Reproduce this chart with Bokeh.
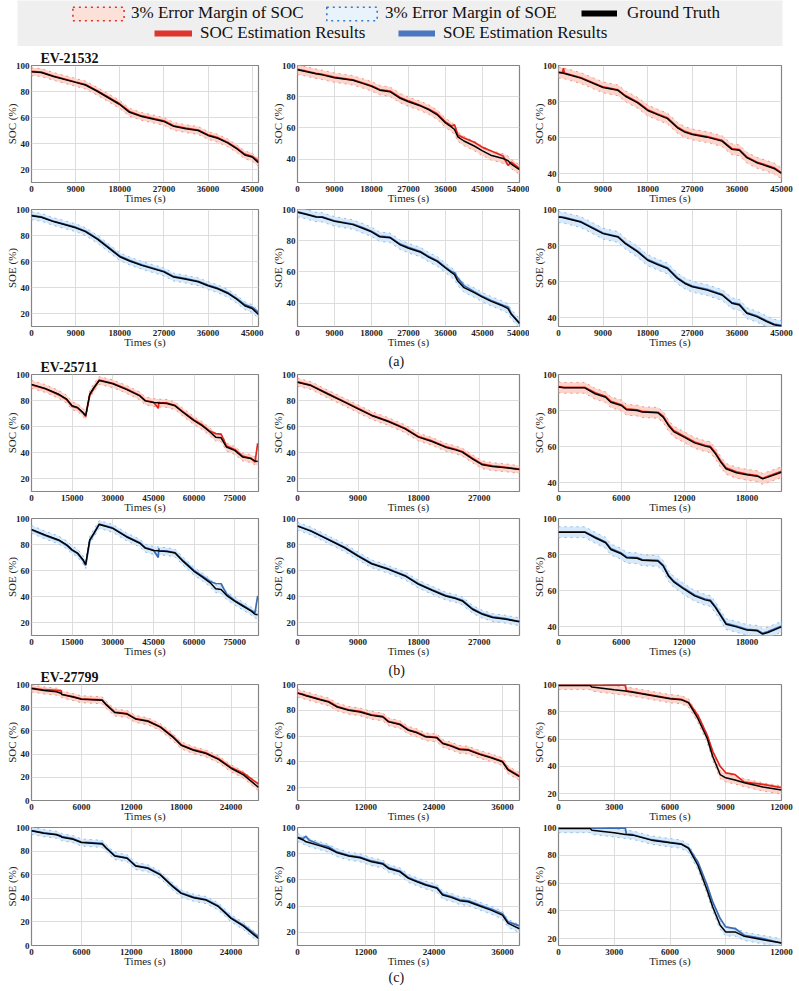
import numpy as np
from bokeh.plotting import figure
from bokeh.layouts import column, row
from bokeh.models import (Range1d, FixedTicker, PrintfTickFormatter, Title, Legend, LegendItem)
from bokeh.embed import file_html
from bokeh.resources import INLINE

# ---------------- data ----------------
GROUP_NAMES = ["EV-21532", "EV-25711", "EV-27799"]
GROUP_TAGS = ["(a)", "(b)", "(c)"]
MARGIN = 3.0  # 3% error margin

# EV-21532
T_A1 = [0, 2000, 4500, 9000, 11000, 13500, 18000, 20000, 22500, 27000, 29000, 31500, 34000, 36000, 38000, 40000, 42000, 43500, 45000, 46300]
SOC_GT_A1 = [95.2, 94.6, 91.6, 87.0, 85.0, 80.0, 70.0, 64.0, 60.8, 57.0, 53.2, 51.4, 50.0, 46.2, 44.0, 40.5, 35.6, 31.2, 29.6, 25.3]
SOC_EST_A1 = [95.5, 94.9, 91.9, 87.3, 85.3, 80.4, 70.5, 64.6, 61.2, 57.5, 53.6, 51.9, 50.4, 46.7, 44.5, 41.0, 36.2, 31.8, 30.2, 26.5]
SOE_GT_A1 = [95.2, 94.0, 90.7, 86.0, 83.0, 77.0, 63.7, 60.4, 57.0, 52.0, 48.0, 46.4, 44.4, 41.4, 39.0, 35.6, 30.6, 26.0, 23.8, 19.3]
SOE_EST_A1 = [95.5, 94.3, 91.0, 86.4, 83.4, 77.5, 64.2, 60.9, 57.4, 52.5, 48.5, 46.9, 44.8, 41.9, 39.5, 36.1, 31.2, 26.8, 24.8, 21.0]

T_A2 = [0, 2000, 4500, 6000, 9000, 13500, 16000, 18000, 20000, 22500, 25000, 27000, 30000, 32000, 34000, 36000, 37500, 38200, 39000, 40500, 43000, 45000, 47000, 50000, 51200, 52000, 54000]
SOC_GT_A2 = [97.3, 96.2, 94.7, 94.0, 92.2, 90.5, 88.4, 86.7, 84.2, 83.2, 79.0, 76.8, 74.0, 71.6, 68.4, 63.2, 60.5, 59.0, 54.3, 51.6, 48.4, 45.3, 42.5, 40.4, 39.0, 36.8, 33.3]
SOC_EST_A2 = [97.5, 96.5, 95.0, 94.4, 92.5, 90.8, 88.8, 87.0, 84.6, 83.6, 79.5, 77.3, 74.4, 72.0, 69.0, 63.8, 61.2, 62.0, 55.5, 53.5, 50.8, 47.5, 45.3, 42.0, 36.0, 38.0, 34.0]
SOE_GT_A2 = [98.3, 97.0, 95.2, 95.0, 92.4, 90.3, 87.8, 85.7, 82.5, 81.9, 77.3, 75.2, 72.6, 69.3, 66.7, 62.5, 59.5, 58.3, 54.1, 49.9, 46.7, 43.8, 41.3, 38.1, 36.5, 32.8, 27.0]
SOE_EST_A2 = [98.5, 97.3, 95.5, 95.3, 92.8, 90.7, 88.2, 86.1, 83.0, 82.3, 77.8, 75.7, 73.0, 69.8, 67.2, 63.0, 60.2, 59.5, 56.0, 51.2, 47.3, 44.3, 41.8, 38.6, 37.5, 33.3, 27.2]

T_A3 = [0, 800, 1000, 1200, 4500, 9000, 12000, 13500, 16000, 18000, 20000, 22000, 24000, 25500, 27000, 30000, 33000, 35000, 36500, 38000, 40000, 42000, 43500, 45000]
SOC_GT_A3 = [96.1, 95.8, 95.7, 95.6, 93.0, 87.8, 86.2, 82.9, 79.2, 75.0, 72.7, 70.5, 65.4, 63.0, 61.7, 60.2, 58.0, 53.4, 52.9, 48.8, 46.0, 44.2, 42.8, 40.0]
SOC_EST_A3 = [96.3, 96.0, 98.5, 95.8, 93.3, 88.1, 86.5, 83.3, 79.6, 75.4, 73.1, 70.9, 65.8, 63.4, 62.0, 60.5, 58.4, 53.8, 53.3, 49.2, 46.4, 44.6, 43.2, 40.5]
SOE_GT_A3 = [95.8, 95.5, 95.4, 95.3, 93.0, 86.6, 84.7, 81.0, 76.4, 71.8, 69.4, 67.2, 61.7, 58.9, 57.1, 55.2, 52.5, 47.9, 47.0, 42.4, 40.5, 37.8, 36.0, 35.2]
SOE_EST_A3 = [96.0, 95.8, 95.7, 95.6, 93.3, 86.9, 85.0, 81.4, 76.8, 72.2, 69.8, 67.6, 62.1, 59.3, 57.5, 55.6, 52.9, 48.3, 47.4, 42.8, 40.9, 38.2, 36.4, 35.6]

# EV-25711
T_B1 = [0, 5000, 10000, 13000, 15000, 17000, 19000, 20000, 21500, 23000, 25000, 27000, 30000, 35000, 40000, 42000, 45000, 46800, 47000, 47200, 50000, 53000, 56000, 60000, 63000, 66000, 68000, 70000, 72000, 75000, 78000, 81000, 82500, 83500]
SOC_GT_B1 = [92.4, 89.3, 84.8, 81.0, 75.9, 74.6, 70.8, 68.3, 84.8, 89.8, 95.4, 94.4, 92.9, 88.6, 83.5, 79.7, 78.4, 78.2, 78.1, 78.0, 77.7, 75.9, 70.8, 64.5, 60.7, 55.6, 51.8, 51.3, 44.2, 41.6, 36.5, 35.3, 33.5, 33.0]
SOC_EST_B1 = [92.0, 89.0, 84.5, 80.6, 75.5, 74.2, 70.5, 67.8, 84.0, 89.2, 95.8, 94.8, 93.3, 89.0, 83.9, 80.0, 78.8, 74.0, 78.6, 78.4, 78.1, 76.3, 71.2, 65.0, 61.3, 56.3, 54.5, 54.2, 45.0, 42.3, 37.2, 35.6, 32.5, 47.0]
SOE_GT_B1 = [91.6, 87.3, 83.5, 79.7, 75.9, 73.4, 68.3, 64.5, 83.5, 88.6, 95.4, 94.2, 92.4, 86.0, 81.0, 77.2, 75.4, 75.2, 75.1, 75.0, 74.6, 73.4, 67.0, 59.4, 55.1, 50.5, 45.9, 45.4, 40.9, 36.5, 32.7, 28.9, 26.4, 26.0]
SOE_EST_B1 = [91.2, 87.0, 83.2, 79.3, 75.5, 73.0, 68.0, 64.0, 82.8, 88.0, 95.8, 94.6, 92.8, 86.4, 81.4, 77.6, 75.8, 70.0, 77.0, 75.4, 75.0, 73.8, 67.5, 60.0, 55.8, 51.5, 50.0, 49.8, 42.0, 37.0, 33.2, 29.5, 27.5, 40.5]

T_B2 = [0, 2000, 4500, 7000, 9000, 11000, 13500, 16000, 18000, 20000, 22000, 23500, 24500, 26000, 27500, 29000, 31000, 33000]
SOC_GT_B2 = [94.0, 91.5, 85.0, 78.7, 73.6, 68.5, 63.8, 58.2, 51.8, 48.5, 44.1, 42.0, 40.3, 35.1, 30.5, 29.2, 28.2, 26.9]
SOC_EST_B2 = [94.3, 91.8, 85.3, 79.0, 74.0, 68.9, 64.2, 58.6, 52.2, 48.9, 44.5, 42.5, 40.8, 35.6, 31.0, 29.7, 28.5, 27.2]
SOE_GT_B2 = [94.1, 90.3, 83.9, 77.5, 71.1, 65.2, 60.9, 55.8, 49.4, 44.8, 40.4, 38.4, 36.6, 30.2, 26.3, 23.8, 22.5, 20.5]
SOE_EST_B2 = [94.4, 90.6, 84.3, 77.9, 71.5, 65.6, 61.3, 56.2, 49.8, 45.2, 40.9, 38.9, 37.1, 30.7, 26.8, 24.3, 23.0, 20.8]

T_B3 = [0, 500, 2500, 3500, 4500, 5000, 6000, 6500, 7500, 8000, 9500, 10000, 10500, 11000, 12000, 13000, 14000, 14500, 15000, 15500, 16000, 17000, 18000, 19000, 19500, 20000, 21300]
SOC_GT_B3 = [93.0, 92.6, 92.6, 89.3, 87.4, 84.6, 82.8, 80.4, 80.0, 79.1, 78.7, 76.3, 71.7, 68.3, 65.2, 62.0, 60.2, 59.6, 55.9, 51.3, 47.6, 45.4, 44.3, 43.5, 42.0, 43.0, 45.7]
SOC_EST_B3 = [93.3, 92.9, 92.9, 89.8, 87.9, 85.1, 83.2, 80.9, 80.4, 79.5, 79.0, 76.8, 72.3, 68.9, 65.7, 62.5, 60.7, 60.1, 56.5, 51.9, 48.2, 45.9, 44.7, 43.8, 42.4, 43.5, 46.2]
SOE_GT_B3 = [92.4, 92.4, 92.4, 89.3, 86.5, 82.8, 80.4, 78.2, 77.9, 76.8, 76.4, 73.6, 68.1, 64.8, 60.7, 57.0, 54.8, 54.2, 50.5, 45.9, 41.3, 39.8, 38.0, 37.6, 35.8, 36.7, 39.8]
SOE_EST_B3 = [92.6, 92.6, 92.6, 89.7, 86.9, 83.3, 80.8, 78.6, 78.3, 77.2, 76.8, 74.1, 68.6, 65.3, 61.2, 57.5, 55.3, 54.7, 51.0, 46.4, 41.8, 40.2, 38.4, 38.0, 36.2, 37.2, 40.2]

# EV-27799
T_C1 = [0, 1500, 3000, 3550, 3650, 5000, 6000, 8500, 9000, 10000, 11500, 12500, 14000, 15500, 17000, 18000, 19500, 21000, 22500, 24000, 25500, 27300]
SOC_GT_C1 = [96.6, 94.9, 93.8, 92.4, 91.5, 89.2, 87.3, 86.4, 82.4, 75.9, 74.5, 70.3, 68.3, 63.2, 54.7, 47.6, 43.3, 40.5, 35.4, 27.8, 22.1, 11.3]
SOC_EST_C1 = [96.8, 95.5, 95.0, 94.8, 91.2, 89.5, 87.7, 86.8, 82.8, 76.3, 74.9, 70.7, 68.7, 63.6, 55.2, 48.1, 43.8, 41.0, 36.0, 28.5, 23.5, 14.2]
SOE_GT_C1 = [97.2, 95.2, 93.8, 92.4, 91.8, 90.1, 87.3, 86.1, 82.4, 75.9, 73.9, 67.4, 65.4, 59.8, 49.9, 44.2, 40.5, 38.5, 32.9, 23.0, 16.4, 5.9]
SOE_EST_C1 = [97.4, 95.5, 94.2, 92.9, 92.2, 90.5, 87.7, 86.5, 82.8, 76.3, 74.3, 67.8, 65.8, 60.3, 50.4, 44.7, 41.0, 39.0, 33.4, 23.6, 17.2, 7.5]

T_C2 = [0, 1000, 1500, 2000, 4000, 5500, 7000, 9000, 11000, 13000, 15000, 16000, 18000, 19500, 21000, 22500, 24500, 25500, 27000, 28500, 30000, 32000, 34000, 36000, 37000, 39000]
SOC_GT_C2 = [93.3, 92.0, 91.3, 90.7, 88.2, 86.4, 82.5, 80.0, 78.7, 76.1, 74.8, 71.0, 68.9, 64.5, 62.5, 59.4, 58.6, 54.2, 52.2, 49.6, 49.1, 45.8, 43.2, 40.1, 33.7, 28.5]
SOC_EST_C2 = [93.5, 92.3, 91.6, 91.0, 88.5, 86.8, 82.9, 80.4, 79.1, 76.5, 75.2, 71.4, 69.3, 64.9, 62.9, 59.8, 59.0, 54.6, 52.6, 50.0, 49.5, 46.2, 43.6, 40.5, 34.2, 29.0]
SOE_GT_C2 = [92.4, 90.5, 89.1, 88.5, 86.0, 84.0, 80.7, 78.2, 76.9, 73.9, 72.1, 68.8, 66.2, 61.2, 58.6, 56.1, 53.6, 48.5, 46.7, 44.2, 43.4, 40.1, 37.0, 33.2, 26.9, 22.8]
SOE_EST_C2 = [92.6, 91.5, 93.4, 90.5, 86.8, 85.2, 81.2, 78.7, 77.4, 74.5, 72.7, 69.4, 66.8, 61.8, 59.2, 56.7, 54.2, 49.2, 47.4, 44.9, 44.1, 40.8, 37.8, 34.2, 28.0, 25.0]

T_C3 = [0, 1700, 1800, 3000, 3600, 3650, 4000, 5000, 6000, 6600, 7000, 7500, 8000, 8300, 8700, 9000, 9500, 10000, 11000, 12000]
SOC_GT_C3 = [99.3, 99.3, 98.1, 96.1, 95.2, 95.1, 94.4, 92.0, 89.6, 88.9, 86.5, 75.1, 60.6, 47.3, 34.0, 31.6, 30.0, 28.0, 24.9, 22.7]
SOC_EST_C3 = [99.5, 99.5, 99.5, 99.5, 99.5, 95.4, 94.7, 92.3, 89.9, 89.2, 87.0, 77.5, 63.0, 51.0, 40.0, 35.3, 34.0, 28.5, 26.8, 24.4]
SOE_GT_C3 = [99.3, 99.3, 98.0, 96.2, 95.0, 94.9, 94.5, 90.9, 89.0, 88.0, 84.9, 72.8, 54.8, 42.8, 29.6, 24.8, 24.8, 21.6, 19.2, 16.8]
SOE_EST_C3 = [99.5, 99.5, 99.5, 99.5, 99.5, 95.2, 94.8, 91.2, 89.3, 88.3, 85.5, 75.2, 58.4, 46.4, 34.4, 28.4, 27.2, 22.4, 20.0, 16.8]

# axis limits and tick labels
X_MAX = [[46300, 54000, 45000], [83800, 33000, 21300], [27300, 39000, 12000]]
Y_MIN = [[10, 25, 35], [10, 10, 35], [0, 10, 15]]
Y_MAX = 100
X_TICKS = [
    [[0, 9000, 18000, 27000, 36000, 45000], [0, 9000, 18000, 27000, 36000, 45000, 54000], [0, 9000, 18000, 27000, 36000, 45000]],
    [[0, 15000, 30000, 45000, 60000, 75000], [0, 9000, 18000, 27000], [0, 6000, 12000, 18000]],
    [[0, 6000, 12000, 18000, 24000], [0, 12000, 24000, 36000], [0, 3000, 6000, 9000, 12000]],
]
Y_TICKS = [0, 20, 40, 60, 80, 100]

TIMES = [[T_A1, T_A2, T_A3], [T_B1, T_B2, T_B3], [T_C1, T_C2, T_C3]]
SOC_GT = [[SOC_GT_A1, SOC_GT_A2, SOC_GT_A3], [SOC_GT_B1, SOC_GT_B2, SOC_GT_B3], [SOC_GT_C1, SOC_GT_C2, SOC_GT_C3]]
SOC_EST = [[SOC_EST_A1, SOC_EST_A2, SOC_EST_A3], [SOC_EST_B1, SOC_EST_B2, SOC_EST_B3], [SOC_EST_C1, SOC_EST_C2, SOC_EST_C3]]
SOE_GT = [[SOE_GT_A1, SOE_GT_A2, SOE_GT_A3], [SOE_GT_B1, SOE_GT_B2, SOE_GT_B3], [SOE_GT_C1, SOE_GT_C2, SOE_GT_C3]]
SOE_EST = [[SOE_EST_A1, SOE_EST_A2, SOE_EST_A3], [SOE_EST_B1, SOE_EST_B2, SOE_EST_B3], [SOE_EST_C1, SOE_EST_C2, SOE_EST_C3]]

# ---------------- styles / geometry ----------------
FONT = "Liberation Serif"
RED = "#e3261c"
BLUE = "#3b6cb4"
RED_BAND = "#fbcfc6"
RED_EDGE = "#f09585"
BLUE_BAND = "#d3e7f8"
BLUE_EDGE = "#8abdea"
TEXT_COL = "#1e1e1e"

# (top border, frame height, bottom border) of the six rows of panels
ROW_GEOM = [(19, 118, 23), (3, 118, 23), (24, 118, 23), (3, 118, 23), (25, 117, 23), (3, 118, 41)]
# (left border, frame width, right border) of the three columns
COL_GEOM = [(31, 227, 10), (24, 227, 10), (24, 228, 18)]
SPACER_STANDOFF = [1, 2]  # lifts the (a)/(b) tags above the group titles


def style_axis(ax, ticks, label, lab_standoff, axlab_standoff):
    ax.ticker = FixedTicker(ticks=ticks)
    ax.formatter = PrintfTickFormatter(format="%d")
    ax.axis_line_color = None
    ax.major_tick_in = 0
    ax.major_tick_out = 0
    ax.minor_tick_in = 0
    ax.minor_tick_out = 0
    ax.major_label_text_font = FONT
    ax.major_label_text_font_size = "9px"
    ax.major_label_text_font_style = "bold"
    ax.major_label_text_color = TEXT_COL
    ax.major_label_standoff = lab_standoff
    ax.axis_label = label
    ax.axis_label_text_font = FONT
    ax.axis_label_text_font_size = "11px"
    ax.axis_label_text_font_style = "normal"
    ax.axis_label_text_color = TEXT_COL
    ax.axis_label_standoff = axlab_standoff


def make_title(text, size, bold, offset, valign="bottom", standoff=0):
    return Title(text=text, text_font=FONT, text_font_size=size,
                 text_font_style="bold" if bold else "normal", text_color="#111111",
                 align="left", offset=offset, vertical_align=valign, standoff=standoff)


def make_panel(g, c, kind, geom):
    top, fh, bottom = geom
    left, fw, right = COL_GEOM[c]
    t = TIMES[g][c]
    if kind == "SOC":
        gt, est, col, band, edge = SOC_GT[g][c], SOC_EST[g][c], RED, RED_BAND, RED_EDGE
    else:
        gt, est, col, band, edge = SOE_GT[g][c], SOE_EST[g][c], BLUE, BLUE_BAND, BLUE_EDGE
    p = figure(width=left + fw + right, height=top + fh + bottom,
               x_range=Range1d(0, X_MAX[g][c]), y_range=Range1d(Y_MIN[g][c], Y_MAX),
               min_border_left=left, min_border_right=right,
               min_border_top=top, min_border_bottom=bottom,
               output_backend="svg", toolbar_location=None, tools="")
    p.background_fill_color = "white"
    p.border_fill_color = "white"
    p.outline_line_color = "#858585"
    p.outline_line_width = 1.2

    lo = np.array(gt) - MARGIN
    hi = np.array(gt) + MARGIN
    p.varea(x=t, y1=lo, y2=hi, fill_color=band, fill_alpha=0.9)
    p.line(t, lo, line_color=edge, line_dash="dotted", line_width=1)
    p.line(t, hi, line_color=edge, line_dash="dotted", line_width=1)
    p.line(t, est, line_color=col, line_width=1.7)
    p.line(t, gt, line_color="black", line_width=1.5)

    style_axis(p.xaxis[0], X_TICKS[g][c], "Times (s)", 3, -3)
    style_axis(p.yaxis[0], Y_TICKS, kind + " (%)", 2, -5)
    p.xgrid.ticker = FixedTicker(ticks=X_TICKS[g][c])
    p.ygrid.ticker = FixedTicker(ticks=Y_TICKS)
    p.xgrid.grid_line_color = "#dddddd"
    p.ygrid.grid_line_color = "#dddddd"

    if kind == "SOC" and c == 0:
        p.add_layout(make_title(GROUP_NAMES[g], "14px", True, 9), "above")
    # panel tag "(a)", "(b)": above the next group's middle panel; "(c)": below the last one
    if kind == "SOC" and c == 1 and g >= 1:
        p.add_layout(make_title(" ", "1px", False, 0, standoff=SPACER_STANDOFF[g - 1]), "above")
        p.add_layout(make_title(GROUP_TAGS[g - 1], "14px", False, 91, valign="top"), "above")
    if kind == "SOE" and c == 1 and g == 2:
        p.add_layout(make_title(GROUP_TAGS[g], "14px", False, 91, valign="top"), "below")
    return p


# ---------------- legend strip ----------------
lp = figure(width=799, height=46, x_range=Range1d(0, 1), y_range=Range1d(0, 1),
            min_border_left=17, min_border_right=17, min_border_top=0, min_border_bottom=0,
            x_axis_type=None, y_axis_type=None, output_backend="svg",
            toolbar_location=None, tools="")
lp.background_fill_color = "#efefef"
lp.border_fill_color = "white"
lp.outline_line_color = None

NAN = [np.nan]
r_socband = lp.quad(left=NAN, right=NAN, top=NAN, bottom=NAN, fill_color="#fbe1da",
                    line_color="#e3352b", line_dash="dotted", line_width=1.6)
r_soeband = lp.quad(left=NAN, right=NAN, top=NAN, bottom=NAN, fill_color="#e9f3fb",
                    line_color="#3a78c8", line_dash="dotted", line_width=1.6)
r_gt = lp.line(x=NAN, y=NAN, line_color="black", line_width=6)
r_soc = lp.line(x=NAN, y=NAN, line_color="#e0352c", line_width=6)
r_soe = lp.line(x=NAN, y=NAN, line_color="#4a77c0", line_width=6)


def add_legend(label, rend, x, y, gw, gh, standoff):
    leg = Legend(items=[LegendItem(label=label, renderers=[rend])], location=(x, y),
                 orientation="horizontal", glyph_width=gw, glyph_height=gh,
                 label_standoff=standoff, padding=0, margin=0, spacing=0,
                 border_line_color=None, background_fill_alpha=0,
                 label_text_font=FONT, label_text_font_size="17px", label_height=19,
                 label_text_color="#111111")
    lp.add_layout(leg)


add_legend("3% Error Margin of SOC", r_socband, 49, 23, 64, 17, 1)
add_legend("3% Error Margin of SOE", r_soeband, 303, 23, 63, 17, 2)
add_legend("Ground Truth", r_gt, 564, 23, 36, 14, 10)
add_legend("SOC Estimation Results", r_soc, 137, 3, 38, 14, 8)
add_legend("SOE Estimation Results", r_soe, 381, 3, 37, 14, 8)

# ---------------- layout ----------------
rows = [lp]
for g in range(3):
    for k, kind in enumerate(["SOC", "SOE"]):
        geom = ROW_GEOM[2 * g + k]
        rows.append(row(*[make_panel(g, c, kind, geom) for c in range(3)]))

layout = column(*rows)
open("out.html", "w").write(file_html(layout, INLINE))
